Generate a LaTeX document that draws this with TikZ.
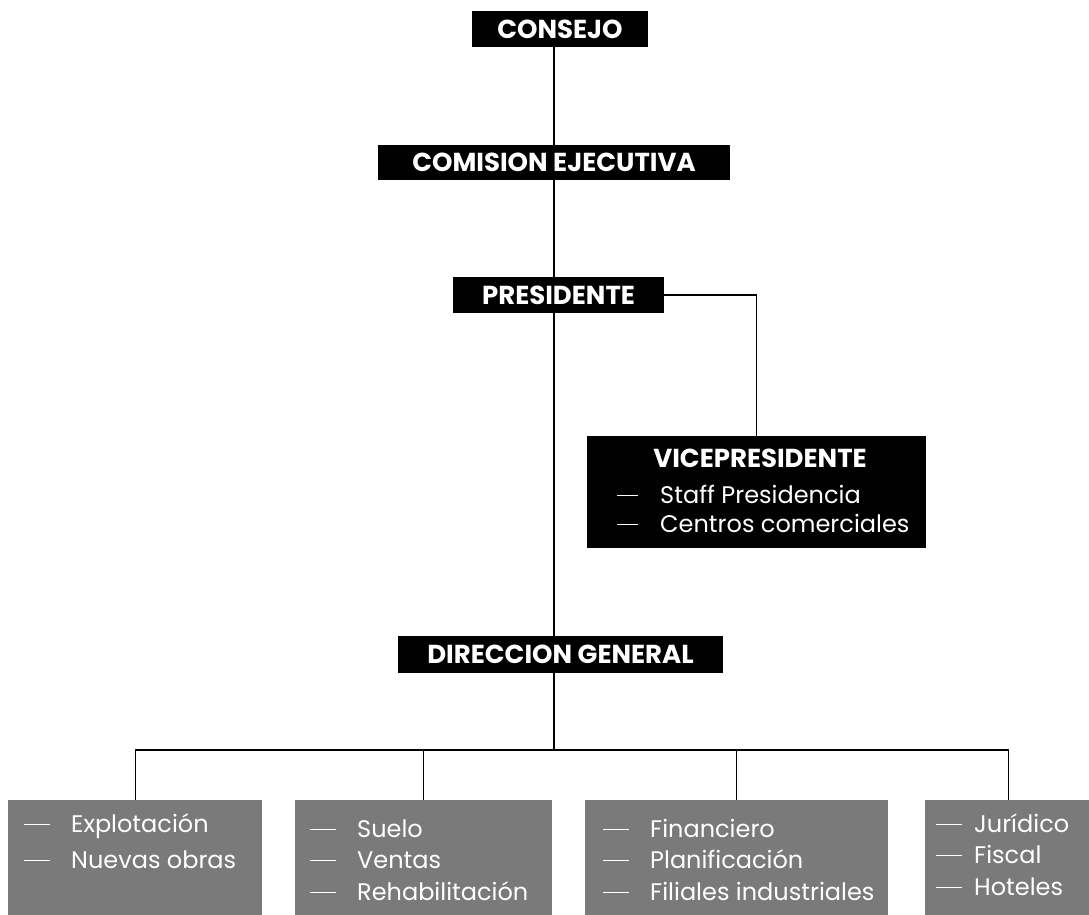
\documentclass[tikz,border=0pt]{standalone}
\usepackage{fontspec}
\setmainfont{Poppins}
\tikzset{
  headbox/.style={fill=black, text=white, inner sep=0pt, font=\fontsize{26}{30}\bfseries\selectfont},
  darkbox/.style={fill=black, inner sep=0pt},
  greybox/.style={fill=black!52, inner sep=0pt, anchor=north west},
  vtitle/.style={text=white, inner sep=0pt, anchor=base, font=\fontsize{26}{30}\bfseries\selectfont},
  vitem/.style={text=white, inner sep=0pt, anchor=base west, font=\fontsize{24}{28}\selectfont},
  bitem/.style={text=white, inner sep=0pt, anchor=base west, font=\fontsize{24}{28}\selectfont},
  conn/.style={line width=1.1pt, black}
}
\newcommand{\dashitem}[3]{\makebox[#1][l]{\rule[7pt]{#2}{1.4pt}}#3}
\begin{document}
\begin{tikzpicture}[x=1pt, y=-1pt]
\useasboundingbox (0,0) rectangle (1089,915);
\clip (0,0) rectangle (1089,915);
\fill[white] (0,0) rectangle (1089,915);

\coordinate (spine) at (554,0);
\coordinate (bus) at (554,750);

% head boxes
\node[headbox, minimum width=176pt, minimum height=36pt] (consejo) at (560,29) {CONSEJO};
\node[headbox, minimum width=352pt, minimum height=35pt] (comision) at (554,162.5) {COMISION EJECUTIVA};
\node[headbox, minimum width=211pt, minimum height=36pt] (presidente) at (558.5,295) {PRESIDENTE};
\node[darkbox, minimum width=339pt, minimum height=112pt] (vice) at (756.5,492) {};
\node[headbox, minimum width=325pt, minimum height=37pt] (direccion) at (560.5,654.5) {DIRECCION GENERAL};

% vicepresidente texts
\node[vtitle] (vt) at (760,467) {VICEPRESIDENTE};
\node[vitem] (v1) at (617,503) {\dashitem{43pt}{21pt}{Staff Presidencia}};
\node[vitem] (v2) at (617,532) {\dashitem{43pt}{21pt}{Centros comerciales}};

% bottom grey boxes
\node[greybox, minimum width=254pt, minimum height=120pt] (b1) at (8,800) {};
\node[greybox, minimum width=257pt, minimum height=120pt] (b2) at (295,800) {};
\node[greybox, minimum width=303pt, minimum height=120pt] (b3) at (585,800) {};
\node[greybox, minimum width=166pt, minimum height=120pt] (b4) at (925,800) {};

\node[bitem] (b1a) at (24,832) {\dashitem{47pt}{26pt}{Explotación}};
\node[bitem] (b1b) at (24,868) {\dashitem{47pt}{26pt}{Nuevas obras}};

\node[bitem] (b2a) at (310,837) {\dashitem{47pt}{26pt}{Suelo}};
\node[bitem] (b2b) at (310,868) {\dashitem{47pt}{26pt}{Ventas}};
\node[bitem] (b2c) at (310,900) {\dashitem{47pt}{26pt}{Rehabilitación}};

\node[bitem] (b3a) at (603,837) {\dashitem{47pt}{26pt}{Financiero}};
\node[bitem] (b3b) at (603,868) {\dashitem{47pt}{26pt}{Planificación}};
\node[bitem] (b3c) at (603,900) {\dashitem{47pt}{26pt}{Filiales industriales}};

\node[bitem] (b4a) at (936,832) {\dashitem{38pt}{26pt}{Jurídico}};
\node[bitem] (b4b) at (936,863) {\dashitem{38pt}{26pt}{Fiscal}};
\node[bitem] (b4c) at (936,895) {\dashitem{38pt}{26pt}{Hoteles}};

% connectors
\draw[conn] (consejo.south -| spine) -- (comision.north -| spine);
\draw[conn] (comision.south -| spine) -- (presidente.north -| spine);
\draw[conn] (presidente.south -| spine) -- (direccion.north -| spine);
\draw[conn] (presidente.east) -| (vice.north);
\draw[conn] (direccion.south -| spine) -- (bus);
\draw[conn] (b1.north) |- (b4.north |- bus) -- (b4.north);
\draw[conn] (b2.north) -- (b2.north |- bus);
\draw[conn] (b3.north) -- (b3.north |- bus);
\end{tikzpicture}
\end{document}
